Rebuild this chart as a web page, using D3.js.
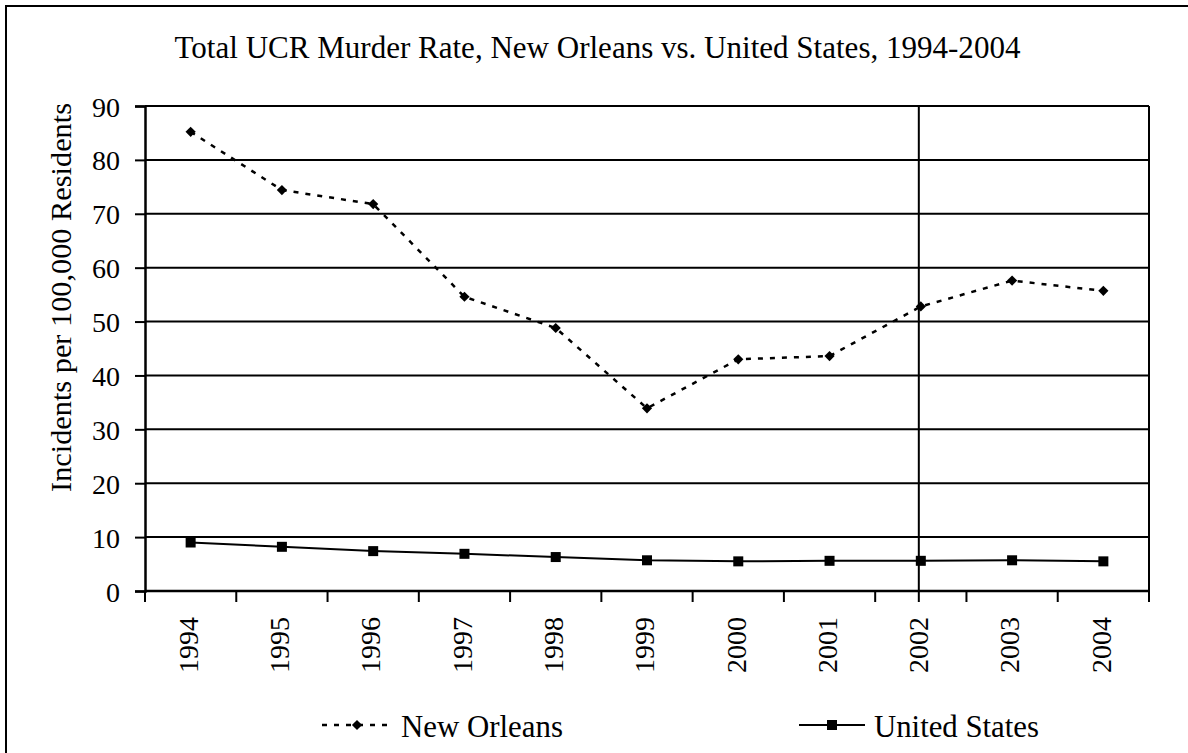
<!DOCTYPE html>
<html>
<head>
<meta charset="utf-8">
<script src="https://cdn.jsdelivr.net/npm/d3@7/dist/d3.min.js"></script>
<style>
  html, body { margin: 0; padding: 0; background: #fff; }
  svg { display: block; }
</style>
</head>
<body>
<script>
const years = ["1994","1995","1996","1997","1998","1999","2000","2001","2002","2003","2004"];
const newOrleans = [85.2, 74.4, 71.8, 54.6, 48.8, 33.9, 43.0, 43.6, 52.8, 57.6, 55.7];
const unitedStates = [9.0, 8.2, 7.4, 6.9, 6.3, 5.7, 5.5, 5.6, 5.6, 5.7, 5.5];
const yTicks = [0, 10, 20, 30, 40, 50, 60, 70, 80, 90];
const markerYear = "2002";
const titleText = "Total UCR Murder Rate, New Orleans vs. United States, 1994-2004";
const yTitle = "Incidents per 100,000 Residents";
const seriesNames = ["New Orleans", "United States"];

const W = 1188, H = 753;
const pLeft = 145, pRight = 1149, pTop = 106, pBottom = 591;
const FF = "Liberation Serif, Times New Roman, serif";
const FONT = 28;

const svg = d3.select("body").append("svg").attr("width", W).attr("height", H);

// helper: fit text to a target width
function fit(sel, target) {
  const w = sel.node().getComputedTextLength();
  const fs = parseFloat(sel.attr("font-size"));
  sel.attr("font-size", (fs * target / w).toFixed(2));
  return sel;
}

// outer chart border
svg.append("rect").attr("x", 6).attr("y", 6).attr("width", W).attr("height", H)
  .attr("fill", "none").attr("stroke", "#000").attr("stroke-width", 2);

const x = d3.scaleBand().domain(years).range([pLeft, pRight]).padding(0);
const y = d3.scaleLinear().domain([0, 90]).range([pBottom, pTop]);
const cx = d => x(d) + x.bandwidth() / 2;

// title
const t = svg.append("text").attr("x", 597.5).attr("y", 58).attr("text-anchor", "middle")
  .attr("font-family", FF).attr("font-size", 28).attr("fill", "#000").text(titleText);
fit(t, 846);

// gridlines
svg.append("g").selectAll("line").data(yTicks.filter(v => v > 0)).join("line")
  .attr("x1", pLeft).attr("x2", pRight).attr("y1", d => y(d)).attr("y2", d => y(d))
  .attr("stroke", "#000").attr("stroke-width", 2);

// plot right border
svg.append("line").attr("x1", pRight).attr("x2", pRight).attr("y1", pTop).attr("y2", pBottom + 11)
  .attr("stroke", "#000").attr("stroke-width", 2);

// vertical marker line at 2002
svg.append("line").attr("x1", cx(markerYear) - 2).attr("x2", cx(markerYear) - 2)
  .attr("y1", pTop).attr("y2", pBottom + 11)
  .attr("stroke", "#000").attr("stroke-width", 2);

// y axis
const yAxis = d3.axisLeft(y).tickValues(yTicks).tickSize(10).tickPadding(15);
const gy = svg.append("g").attr("transform", `translate(${pLeft},0)`).call(yAxis);
gy.attr("font-family", FF).attr("font-size", FONT);
gy.select(".domain").attr("stroke", "#000").attr("stroke-width", 2.5);
gy.selectAll(".tick line").attr("stroke", "#000").attr("stroke-width", 2);
gy.selectAll(".tick text").attr("fill", "#000").attr("dy", "0.36em");

// x axis: ticks at band boundaries
const gx = svg.append("g").attr("transform", `translate(0,${pBottom})`);
gx.append("line").attr("x1", pLeft).attr("x2", pRight).attr("y1", 0).attr("y2", 0)
  .attr("stroke", "#000").attr("stroke-width", 2.5);
const boundaries = years.map(d => x(d)).concat([pRight]);
gx.selectAll("line.tk").data(boundaries).join("line").attr("class", "tk")
  .attr("x1", d => d).attr("x2", d => d).attr("y1", 0).attr("y2", 11)
  .attr("stroke", "#000").attr("stroke-width", 2);
gx.selectAll("text").data(years).join("text")
  .attr("transform", d => `translate(${cx(d)},${26}) rotate(-90)`)
  .attr("text-anchor", "end").attr("dy", "0.26em")
  .attr("font-family", FF).attr("font-size", FONT).attr("fill", "#000").text(d => d);

// y title
const yt = svg.append("text").attr("transform", "translate(71,297.5) rotate(-90)")
  .attr("text-anchor", "middle").attr("font-family", FF).attr("font-size", 28)
  .attr("fill", "#000").text(yTitle);
fit(yt, 389);

// New Orleans line
const lineNO = d3.line().x((d, i) => cx(years[i])).y(d => y(d));
svg.append("path").datum(newOrleans).attr("d", lineNO)
  .attr("fill", "none").attr("stroke", "#000").attr("stroke-width", 2.5)
  .attr("stroke-dasharray", "5,7");
svg.append("g").selectAll("path").data(newOrleans).join("path")
  .attr("d", d3.symbol().type(d3.symbolSquare).size(52))
  .attr("transform", (d, i) => `translate(${cx(years[i])},${y(d)}) rotate(45)`)
  .attr("fill", "#000");

// United States line
const lineUS = d3.line().x((d, i) => cx(years[i])).y(d => y(d));
svg.append("path").datum(unitedStates).attr("d", lineUS)
  .attr("fill", "none").attr("stroke", "#000").attr("stroke-width", 2);
svg.append("g").selectAll("rect").data(unitedStates).join("rect")
  .attr("x", (d, i) => cx(years[i]) - 5).attr("y", d => y(d) - 5)
  .attr("width", 10).attr("height", 10).attr("fill", "#000");

// legend
const lg = svg.append("g");
const ly = 725;
lg.append("line").attr("x1", 322).attr("x2", 388).attr("y1", ly).attr("y2", ly)
  .attr("stroke", "#000").attr("stroke-width", 2.5).attr("stroke-dasharray", "5,7");
lg.append("path").attr("d", d3.symbol().type(d3.symbolSquare).size(52))
  .attr("transform", `translate(357,${ly}) rotate(45)`).attr("fill", "#000");
const l1 = lg.append("text").attr("x", 401).attr("y", 737)
  .attr("font-family", FF).attr("font-size", 28).attr("fill", "#000").text(seriesNames[0]);
fit(l1, 162);

lg.append("line").attr("x1", 799).attr("x2", 865).attr("y1", ly).attr("y2", ly)
  .attr("stroke", "#000").attr("stroke-width", 2);
lg.append("rect").attr("x", 827).attr("y", ly - 5).attr("width", 10).attr("height", 10).attr("fill", "#000");
const l2 = lg.append("text").attr("x", 874).attr("y", 737)
  .attr("font-family", FF).attr("font-size", 28).attr("fill", "#000").text(seriesNames[1]);
fit(l2, 165);
</script>
</body>
</html>
